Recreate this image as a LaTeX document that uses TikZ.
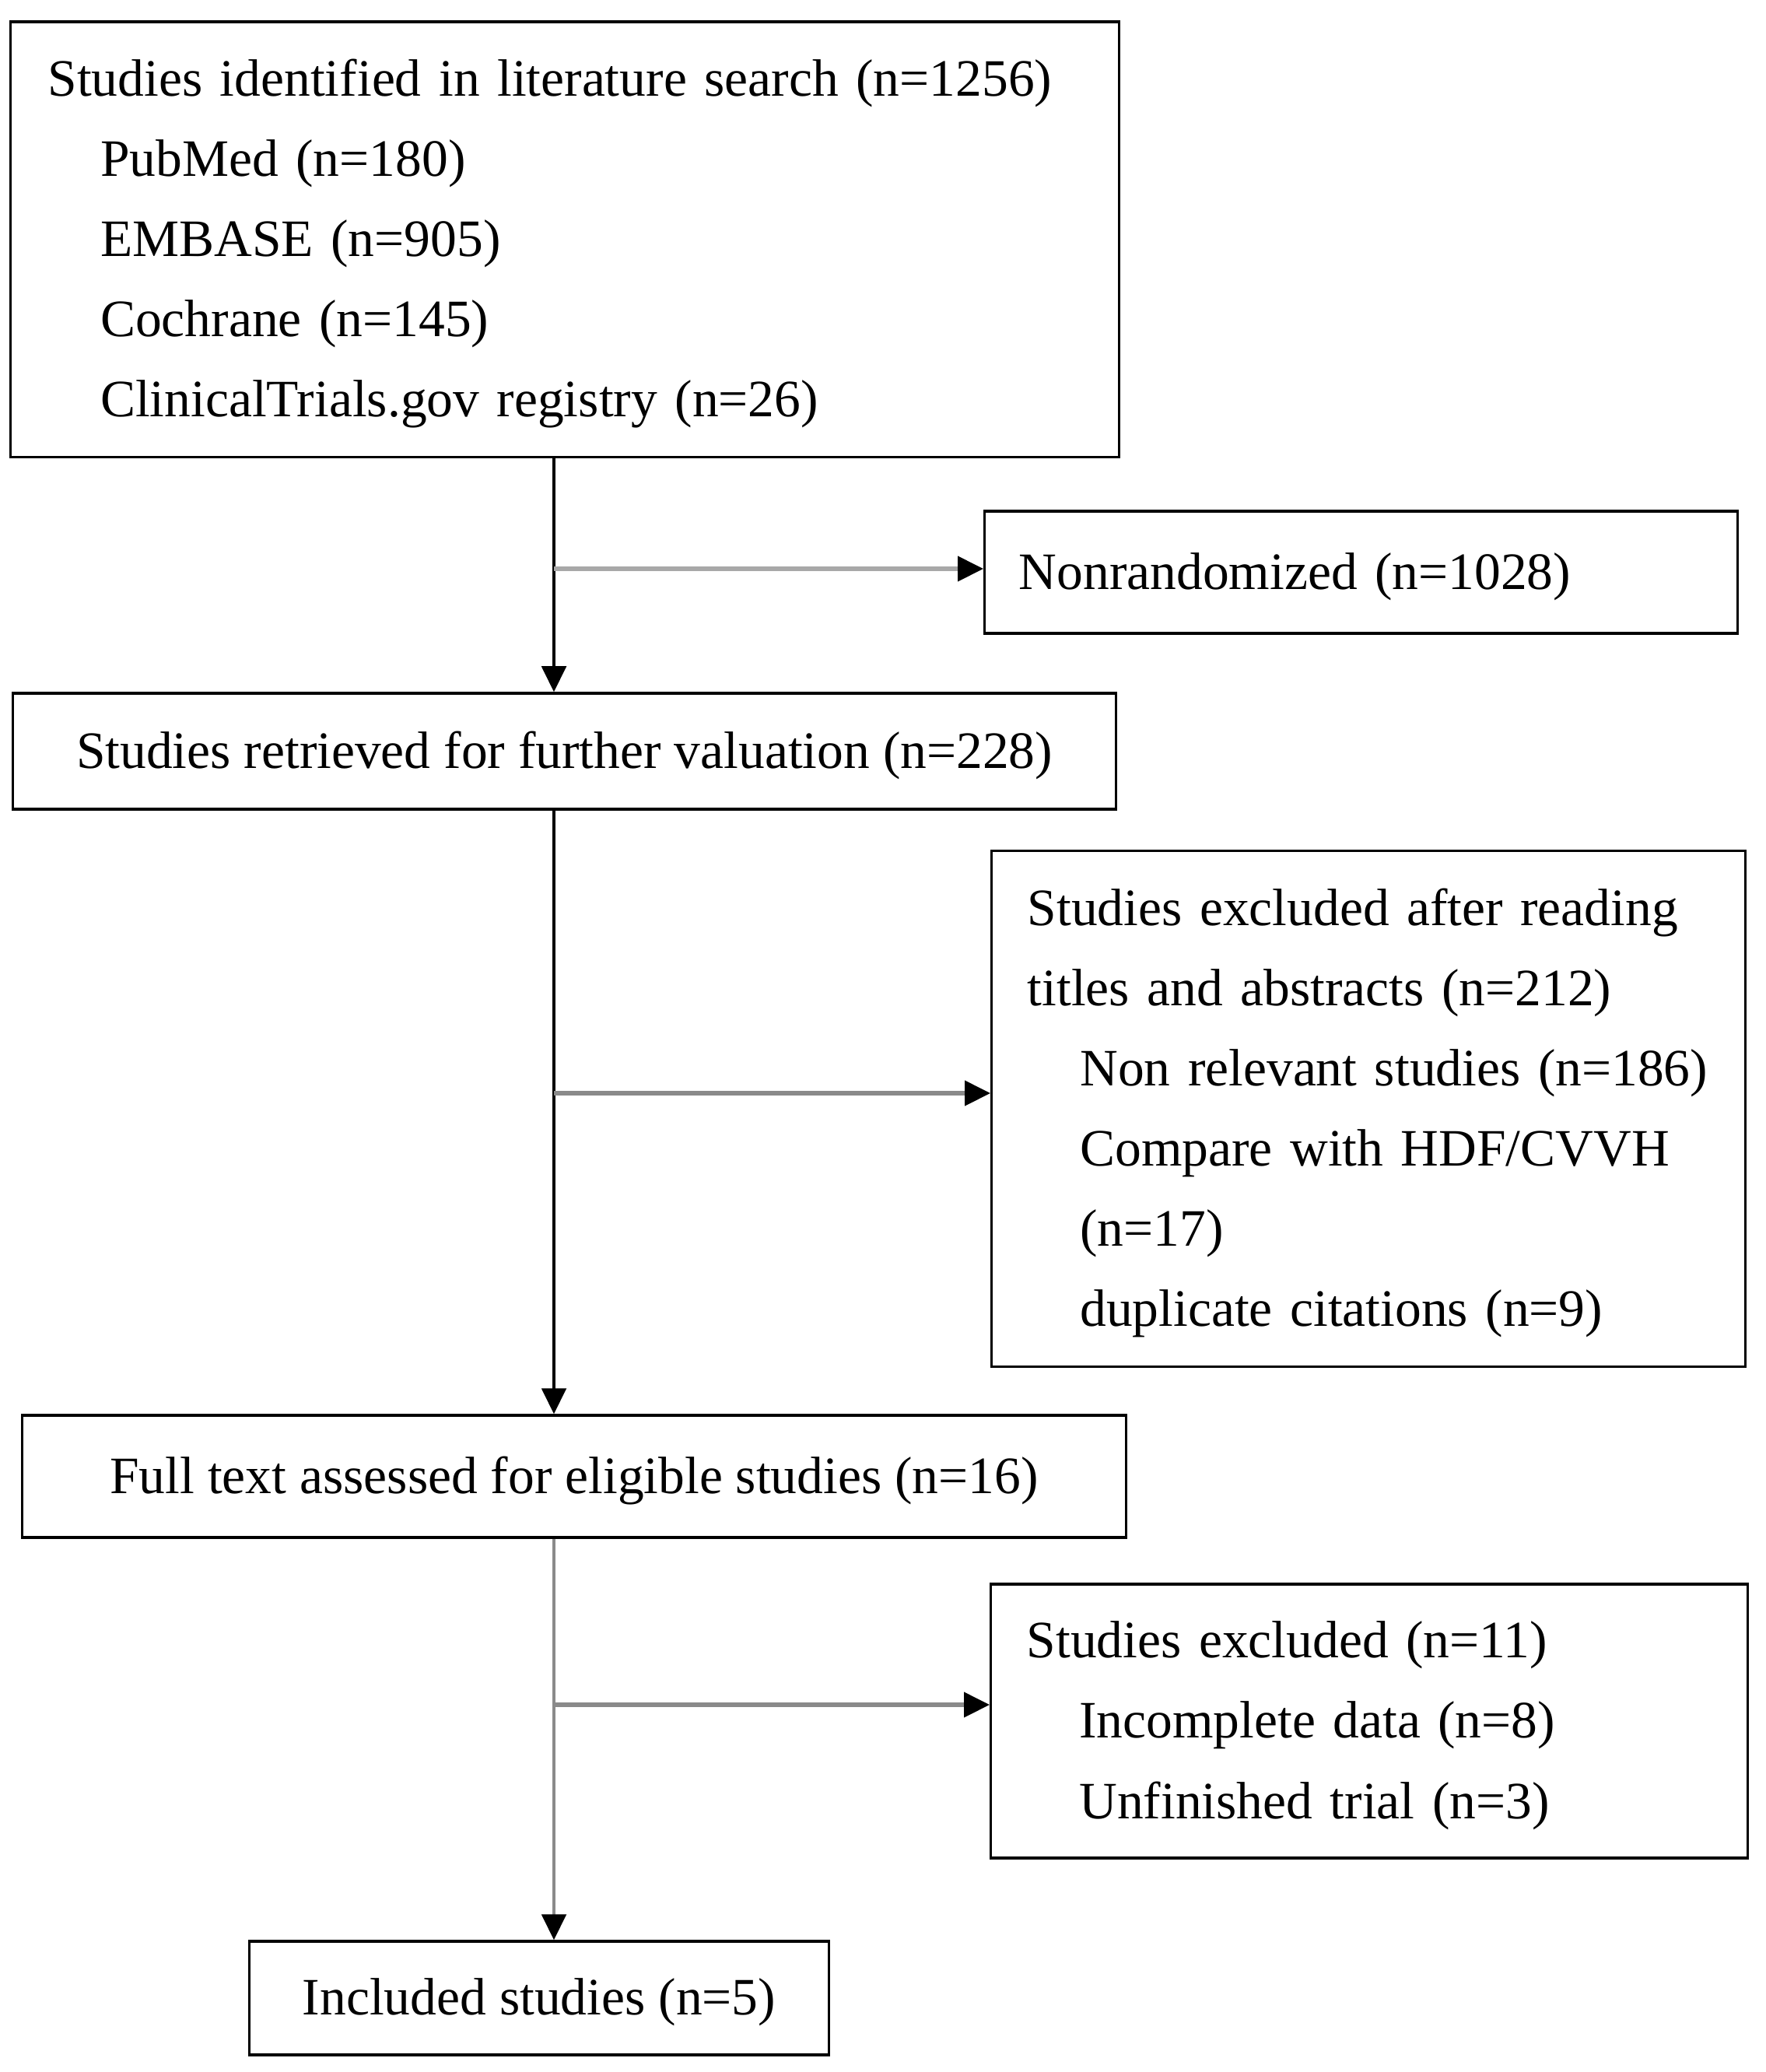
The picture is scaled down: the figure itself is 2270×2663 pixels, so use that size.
\documentclass[tikz,border=0pt]{standalone}
\usepackage{fontspec}
\setmainfont{Liberation Serif}
\usetikzlibrary{arrows.meta}
\definecolor{linegray}{HTML}{8A8A8A}
\definecolor{lightline}{HTML}{A8A8A8}
\tikzset{
  boxnode/.style={draw=black, line width=0.95pt, rectangle, inner ysep=0pt,
    font=\fontsize{19.2pt}{29.3pt}\selectfont},
  leftbox/.style={boxnode, align=left},
  spineline/.style={line width=0.9pt, draw=black},
  branch/.style={line width=1.5pt, draw=linegray},
  tip/.style={-{Triangle[length=9.4pt,width=9pt,color=black]}},
}
\newcommand{\ind}{\hspace*{1em}}
\newcommand{\topstrut}{\rule{0pt}{\dimexpr\fontcharht\font`(+4pt\relax}}
\begin{document}
\begin{tikzpicture}[x=0.01cm,y=-0.01cm]
\useasboundingbox[fill=white] (0,0) rectangle (2270,2663);

\node[leftbox, minimum width=14.24cm, minimum height=5.59cm, text width=13.28cm, inner xsep=0.48cm]
  (search) at (726,307.5)
  {\mbox{\topstrut Studies identified in literature search (n=1256)}\\
   \mbox{\ind PubMed (n=180)}\\
   \mbox{\ind EMBASE (n=905)}\\
   \mbox{\ind Cochrane (n=145)}\\
   \mbox{\ind ClinicalTrials.gov registry (n=26)}};

\node[leftbox, minimum width=9.67cm, minimum height=1.57cm, text width=8.79cm, inner xsep=0.44cm]
  (nonrand) at (1749.5,735.5) {\mbox{\topstrut Nonrandomized (n=1028)}};

\node[boxnode, minimum width=14.17cm, minimum height=1.49cm]
  (retrieved) at (725.5,965.5) {\topstrut Studies retrieved for further valuation (n=228)};

\node[leftbox, minimum width=9.68cm, minimum height=6.62cm, text width=8.76cm, inner xsep=0.46cm]
  (excl1) at (1759,1425)
  {\mbox{\topstrut Studies excluded after reading}\\
   \mbox{titles and abstracts (n=212)}\\
   \mbox{\ind Non relevant studies (n=186)}\\
   \mbox{\ind Compare with HDF/CVVH}\\
   \mbox{\ind (n=17)}\\
   \mbox{\ind duplicate citations (n=9)}};

\node[boxnode, minimum width=14.18cm, minimum height=1.57cm]
  (fulltext) at (738,1897.5) {\topstrut Full text assessed for eligible studies (n=16)};

\node[leftbox, minimum width=9.72cm, minimum height=3.52cm, text width=8.80cm, inner xsep=0.46cm]
  (excl2) at (1760,2212)
  {\mbox{\topstrut Studies excluded (n=11)}\\
   \mbox{\ind Incomplete data (n=8)}\\
   \mbox{\ind Unfinished trial (n=3)}};

\node[boxnode, minimum width=7.44cm, minimum height=1.46cm]
  (included) at (693,2568) {\topstrut Included studies (n=5)};

\coordinate (spine) at (712,0);
\coordinate (j1) at (712,731);
\coordinate (j2) at (712,1405);
\coordinate (j3) at (712,2191);

\draw[spineline, tip] (search.south -| spine) -- (retrieved.north -| spine);
\draw[branch, draw=lightline, tip] (j1) -- (j1 -| nonrand.west);
\draw[spineline, tip] (retrieved.south -| spine) -- (fulltext.north -| spine);
\draw[branch, tip] (j2) -- (j2 -| excl1.west);
\draw[spineline, draw=linegray, tip] (fulltext.south -| spine) -- (included.north -| spine);
\draw[branch, tip] (j3) -- (j3 -| excl2.west);
\end{tikzpicture}
\end{document}
